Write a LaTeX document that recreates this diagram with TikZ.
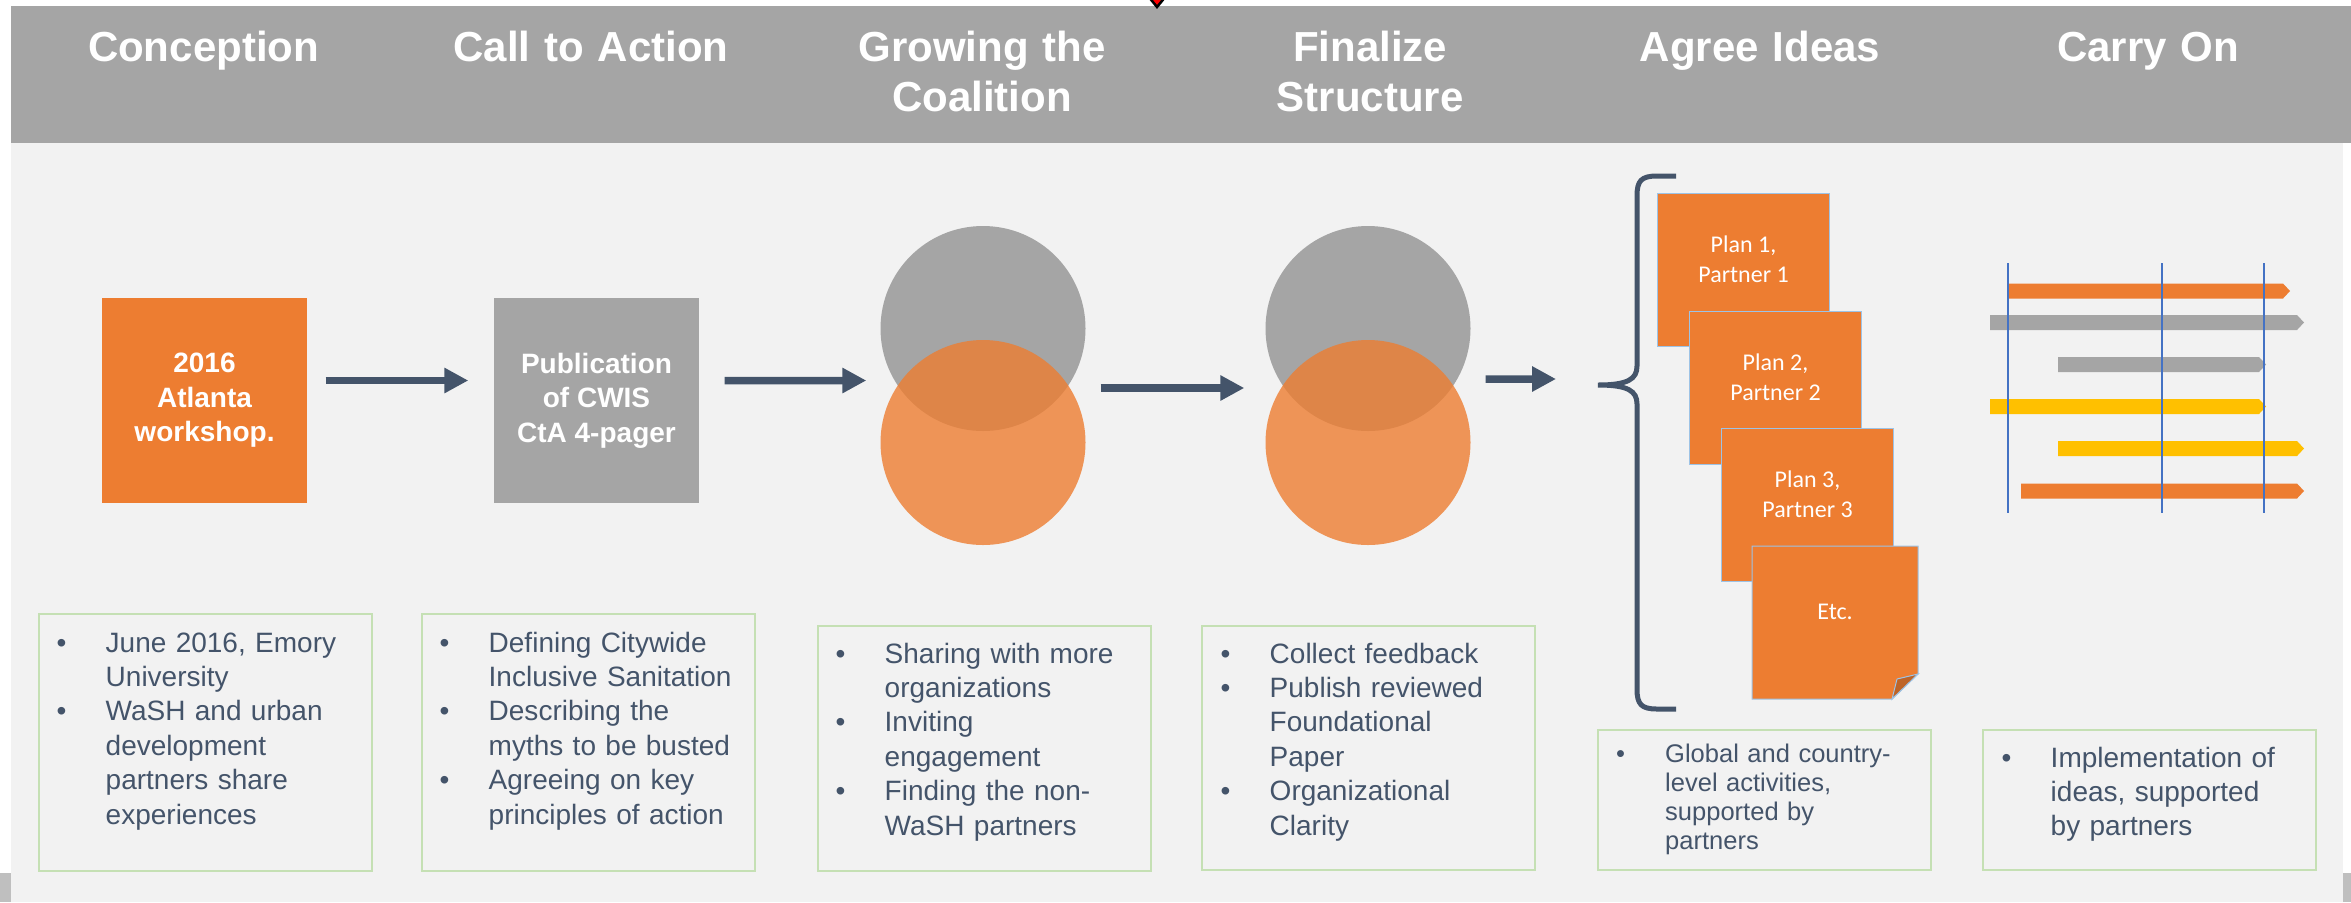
\documentclass[tikz,border=0pt]{standalone}
\usepackage{fontspec}
\setmainfont{Liberation Sans}
\newfontfamily\planfont{Carlito}
\usetikzlibrary{arrows.meta,positioning,calc}
\definecolor{slideGray}{HTML}{A5A5A5}
\definecolor{panelGray}{HTML}{F2F2F2}
\definecolor{edgeGray}{HTML}{BFBFBF}
\definecolor{accOrange}{HTML}{ED7D31}
\definecolor{accYellow}{HTML}{FFC000}
\definecolor{slate}{HTML}{44546A}
\definecolor{noteGreen}{HTML}{C5E0B4}
\definecolor{lineBlue}{HTML}{4472C4}
\definecolor{planEdge}{HTML}{9DC3E6}
\newcommand{\headfont}{\fontsize{11.95}{14.23}\selectfont\bfseries}
\newcommand{\notefont}{\fontsize{7.97}{9.8}\selectfont}
\newcommand{\smallnote}{\fontsize{7.26}{8.25}\selectfont}
\newcommand{\bpt}[1]{{\let\\\newline\hangindent=4.9mm\hangafter=1\makebox[4.9mm][l]{\textbullet}#1\par}}
\newcommand{\ganttbar}[4]{\fill[#1] (#2,#4-7.5) -- (#3-7,#4-7.5) -- (#3,#4) -- (#3-7,#4+7.5) -- (#2,#4+7.5) -- cycle;}
\tikzset{
  headtext/.style={anchor=base, text width=45mm, align=center, inner sep=0pt, text=white, font=\headfont},
  stepbox/.style={minimum width=20.5mm, minimum height=20.5mm, inner sep=0pt, align=center,
                  text=white, font=\notefont\bfseries},
  disc/.style={circle, minimum size=20.5mm, inner sep=0pt},
  flow/.style={-{Triangle[length=2.4mm, width=2.4mm]}, line width=0.75mm, draw=slate},
  brace/.style={line width=0.5mm, draw=slate},
  plan/.style={rectangle, anchor=north west, fill=accOrange, draw=planEdge, line width=0.1mm,
               minimum width=17.2mm, minimum height=15.3mm, inner sep=0pt},
  plantext/.style={align=center, inner sep=0pt, text=white, font=\planfont\fontsize{6.83}{8.54}\selectfont},
  notebox/.style={rectangle, anchor=north west, draw=noteGreen, fill=panelGray, line width=0.2mm,
                  minimum width=33.3mm, inner sep=0pt},
  notetext/.style={anchor=base west, text width=33mm, align=left, inner sep=0pt, text=slate, font=\notefont},
  gridline/.style={draw=lineBlue, line width=0.17mm}
}
\begin{document}
\begin{tikzpicture}[x=0.1mm, y=-0.1mm]
\useasboundingbox (0,0) rectangle (2351,902);
\fill[white] (0,0) rectangle (2351,902);
\fill[slideGray] (11,6) rectangle (2351,143);
\fill[panelGray] (11,143) rectangle (2343,902);
\fill[edgeGray] (0,873) rectangle (11,902);
\fill[edgeGray] (2343,873) rectangle (2351,902);
\filldraw[red, draw=black, line width=0.25mm] (1148,-4) -- (1166,-4) -- (1157,7) -- cycle;

\node[headtext] (conc) at (203.5,61) {Conception};
\node[headtext] (call) at (591,61) {Call to Action};
\node[headtext] (grow) at (982,61) {Growing the\\Coalition};
\node[headtext] (final) at (1370,61) {Finalize\\Structure};
\node[headtext] (agree) at (1760,61) {Agree Ideas};
\node[headtext] (carry) at (2148,61) {Carry On};

\node[stepbox, fill=accOrange] (atl) at (204.5,400.5) {2016\\Atlanta\\workshop.};
\node[stepbox, fill=slideGray] (pub) at (596.5,400.5) {Publication\\of CWIS\\CtA 4-pager};
\node[disc, fill=slideGray] (gc1) at (983,328.5) {};
\node[disc, fill=accOrange, fill opacity=0.8] (oc1) at (983,442.5) {};
\node[disc, fill=slideGray] (gc2) at (1368,328.5) {};
\node[disc, fill=accOrange, fill opacity=0.8] (oc2) at (1368,442.5) {};
\coordinate (brtip) at (1598,385);

\draw[flow] ([xshift=1.8mm,yshift=2mm]atl.east) -- ([xshift=-2.5mm,yshift=2mm]pub.west);
\draw[flow] ([xshift=2.5mm,yshift=2mm]pub.east) -- ([xshift=-1.35mm,yshift=-5.2mm]gc1.west);
\draw[flow] ([xshift=1.45mm,yshift=-5.95mm]gc1.east) -- ([xshift=-2.05mm,yshift=-5.95mm]gc2.west);
\draw[flow] ([xshift=1.45mm,yshift=-5.05mm]gc2.east) -- ([xshift=-4.2mm,yshift=0.6mm]brtip);

\draw[brace] (1676,176) -- (1657,176) .. controls (1641,176) and (1637,181) .. (1637,196) -- (1637,366)
  .. controls (1637,379) and (1628,385) .. (brtip) .. controls (1628,385) and (1637,391) .. (1637,404)
  -- (1637,689) .. controls (1637,704) and (1641,709) .. (1657,709) -- (1676,709);

\node[plan] (p1) at (1657,193) {};
\node[plan] (p2) at ([xshift=3.2mm,yshift=-11.8mm]p1.north west) {};
\node[plan] (p3) at ([xshift=3.2mm,yshift=-11.7mm]p2.north west) {};
\filldraw[accOrange, draw=planEdge, line width=0.1mm] (1752,546) -- (1918,546) -- (1918,674) -- (1892,699) -- (1752,699) -- cycle;
\filldraw[accOrange!80!black, draw=planEdge, line width=0.1mm] (1918,674) -- (1897,679) -- (1892,699) -- cycle;
\node[plantext] (t1) at ([yshift=1.05mm]p1.center) {Plan 1,\\Partner 1};
\node[plantext] (t2) at ([yshift=1.05mm]p2.center) {Plan 2,\\Partner 2};
\node[plantext] (t3) at ([yshift=1.05mm]p3.center) {Plan 3,\\Partner 3};
\node[plantext] (t4) at (1835,612) {Etc.};

\ganttbar{accOrange}{2007}{2290}{291}
\ganttbar{slideGray}{1990}{2304}{322.5}
\ganttbar{slideGray}{2058}{2266}{364.5}
\ganttbar{accYellow}{1990}{2266}{406.5}
\ganttbar{accYellow}{2058}{2304}{448.5}
\ganttbar{accOrange}{2021}{2304}{491}
\draw[gridline] (2008,263) -- (2008,513);
\draw[gridline] (2162,263) -- (2162,513);
\draw[gridline] (2264,263) -- (2264,513);

\node[notebox, minimum height=25.7mm] (n1) at (38,613) {};
\node[notebox, minimum height=25.7mm] (n2) at (421,613) {};
\node[notebox, minimum height=24.5mm] (n3) at (817,625) {};
\node[notebox, minimum height=24.4mm] (n4) at (1201,625) {};
\node[notebox, minimum height=14mm] (n5) at (1597,729) {};
\node[notebox, minimum height=14mm] (n6) at (1982,729) {};
\node[notetext] (n1t) at ([xshift=1.8mm,yshift=-3.9mm]n1.north west)
  {\bpt{June 2016, Emory\\University}\bpt{WaSH and urban\\development\\partners share\\experiences}};
\node[notetext] (n2t) at ([xshift=1.8mm,yshift=-3.9mm]n2.north west)
  {\bpt{Defining Citywide\\Inclusive Sanitation}\bpt{Describing the\\myths to be busted}\bpt{Agreeing on key\\principles of action}};
\node[notetext] (n3t) at ([xshift=1.8mm,yshift=-3.8mm]n3.north west)
  {\bpt{Sharing with more\\organizations}\bpt{Inviting\\engagement}\bpt{Finding the non-\\WaSH partners}};
\node[notetext] (n4t) at ([xshift=1.9mm,yshift=-3.8mm]n4.north west)
  {\bpt{Collect feedback}\bpt{Publish reviewed\\Foundational\\Paper}\bpt{Organizational\\Clarity}};
\node[notetext, font=\smallnote] (n5t) at ([xshift=1.85mm,yshift=-3.3mm]n5.north west)
  {\bpt{Global and country-\\level activities,\\supported by\\partners}};
\node[notetext] (n6t) at ([xshift=1.9mm,yshift=-3.8mm]n6.north west)
  {\bpt{Implementation of\\ideas, supported\\by partners}};
\end{tikzpicture}
\end{document}
